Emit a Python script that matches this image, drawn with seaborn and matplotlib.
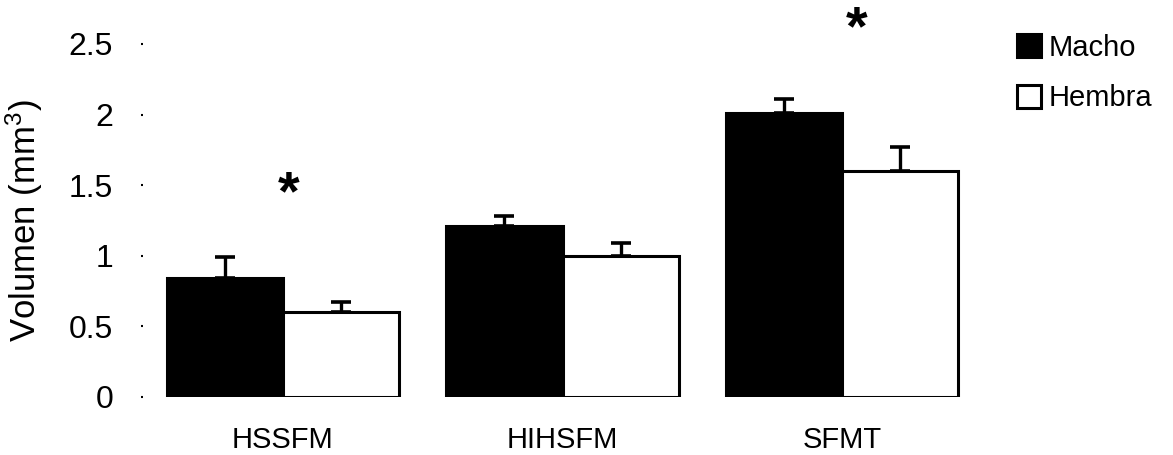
import numpy as np
import pandas as pd
import matplotlib
matplotlib.use("Agg")
import matplotlib.pyplot as plt
import seaborn as sns

# ---- data ----
regions = ["HSSFM", "HIHSFM", "SFMT"]
sexes = ["Macho", "Hembra"]
macho_vals = [0.84, 1.21, 2.01]
hembra_vals = [0.60, 1.00, 1.60]
macho_err = [0.15, 0.07, 0.10]
hembra_err = [0.07, 0.09, 0.17]
ytick_vals = [0, 0.5, 1, 1.5, 2, 2.5]
ytick_labels = ["0", "0.5", "1", "1.5", "2", "2.5"]
star_x = [0.02, 2.05]
star_y = [1.43, 2.60]

df = pd.DataFrame({
    "Region": regions * 2,
    "Sexo": ["Macho"] * 3 + ["Hembra"] * 3,
    "Volumen": macho_vals + hembra_vals,
})
errs = {"Macho": macho_err, "Hembra": hembra_err}

sns.set_theme(style="white")
plt.rcParams["font.family"] = ["Liberation Sans", "DejaVu Sans"]
plt.rcParams["mathtext.default"] = "regular"
plt.rcParams["text.color"] = "black"
plt.rcParams["axes.labelcolor"] = "black"
plt.rcParams["xtick.color"] = "black"
plt.rcParams["ytick.color"] = "black"

fig = plt.figure(figsize=(11.73, 4.55), dpi=100)
ax = fig.add_axes([143 / 1173, 58 / 455, 839 / 1173, 353 / 455])

sns.barplot(data=df, x="Region", y="Volumen", hue="Sexo", order=regions,
            hue_order=sexes, palette={"Macho": "black", "Hembra": "white"},
            edgecolor="black", linewidth=2.2, width=0.83, errorbar=None,
            saturation=1, ax=ax)

for cont, sex in zip(ax.containers, sexes):
    xs = [p.get_x() + p.get_width() / 2 for p in cont]
    hs = [p.get_height() for p in cont]
    e = errs[sex]
    ax.errorbar(xs, hs, yerr=[np.zeros(len(e)), e], fmt="none", ecolor="black",
                elinewidth=2.4, capsize=7, capthick=2.6, zorder=5)

for sx, sy in zip(star_x, star_y):
    ax.text(sx, sy, "*", ha="center", va="center", fontsize=40,
            fontweight="bold", color="black", clip_on=False)

ax.set_xlim(-0.5, 2.5)
ax.set_ylim(0, 2.5)
ax.set_yticks(ytick_vals)
ax.set_yticklabels(ytick_labels, fontsize=23)
ax.tick_params(axis="y", left=True, length=1.5, width=1.5, colors="black", pad=20)
ax.tick_params(axis="x", bottom=False, length=0, pad=21, labelsize=21,
               colors="black")
for s in ax.spines.values():
    s.set_visible(False)
ax.set_xlabel("")
ax.set_ylabel("Volumen (mm$^3$)", fontsize=25, color="black")
ax.yaxis.set_label_coords(-0.117, 0.5)

handles, labels = ax.get_legend_handles_labels()
if ax.get_legend() is not None:
    ax.get_legend().remove()
fig.legend(handles, labels, loc="upper left",
           bbox_to_anchor=(1017 / 1173, 1 - 34 / 455), frameon=False,
           handlelength=0.83, handleheight=0.83, handletextpad=0.25,
           labelspacing=0.77, borderpad=0, borderaxespad=0, fontsize=21,
           labelcolor="black")

fig.savefig("out.png", dpi=100, facecolor="white")
